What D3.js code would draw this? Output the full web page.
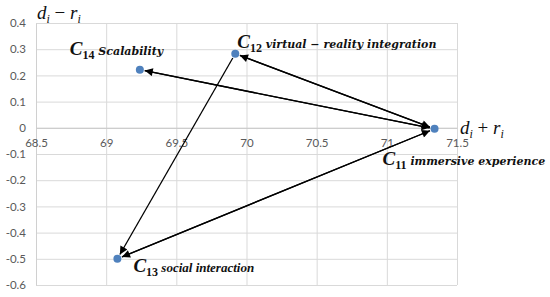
<!DOCTYPE html>
<html lang="en">
<head>
<meta charset="UTF-8">
<title>IRM diagram</title>
<script src="https://d3js.org/d3.v7.min.js"></script>
<style>
  body { margin: 0; background: #fff; }
  .tick text { font-family: Lato, "Liberation Sans", sans-serif; font-size: 11.5px; fill: #595959; }
</style>
</head>
<body>
<svg width="550" height="297"></svg>
<script>
    // criteria (d+r, d-r)
    var ids = ["11", "12", "13", "14"];
    var names = ["immersive experience", "virtual \u2212 reality integration", "social interaction", "Scalability"];
    var xVals = [71.34, 69.92, 69.08, 69.24];
    var yVals = [-0.004, 0.283, -0.5, 0.222];
    // arrows: index from -> index to
    var linkFrom = [0, 0, 0, 1, 3, 1, 2];
    var linkTo   = [3, 1, 2, 2, 0, 0, 0];
    var xTicks = [68.5, 69, 69.5, 70, 70.5, 71, 71.5];
    var yTicks = [0.4, 0.3, 0.2, 0.1, 0, -0.1, -0.2, -0.3, -0.4, -0.5, -0.6];

    var svg = d3.select("svg"),
        margin = {top: 23, right: 93, bottom: 12, left: 36},
        width = +svg.attr("width") - margin.left - margin.right,
        height = +svg.attr("height") - margin.top - margin.bottom,
        g = svg.append("g").attr("transform", "translate(" + margin.left + "," + margin.top + ")");

    var x = d3.scaleLinear().domain([68.5, 71.5]).range([0, width]),
        y = d3.scaleLinear().domain([-0.6, 0.4]).range([height, 0]);

    svg.append("defs").append("marker")
        .attr("id", "arr")
        .attr("viewBox", "0 0 10 10")
        .attr("refX", 10).attr("refY", 5)
        .attr("markerWidth", 10).attr("markerHeight", 8)
        .attr("markerUnits", "userSpaceOnUse")
        .attr("orient", "auto-start-reverse")
        .append("path").attr("d", "M0,0L10,5L0,10z").attr("fill", "#000");

    // gridlines
    g.append("g")
        .call(d3.axisLeft(y).tickValues(yTicks).tickSize(-width).tickFormat(""))
        .call(s => s.select(".domain").remove())
        .selectAll("line").attr("stroke", "#d9d9d9");
    g.append("g")
        .attr("transform", "translate(0," + height + ")")
        .call(d3.axisBottom(x).tickValues(xTicks).tickSize(-height).tickFormat(""))
        .call(s => s.select(".domain").remove())
        .selectAll("line").attr("stroke", "#d9d9d9");

    // y labels
    g.append("g")
        .call(d3.axisLeft(y).tickValues(yTicks).tickSize(0).tickPadding(10)
            .tickFormat(d => String(+d.toFixed(1))))
        .call(s => s.select(".domain").attr("stroke", "#d0d0d0"));

    // x axis through zero
    g.append("g")
        .attr("transform", "translate(0," + y(0) + ")")
        .call(d3.axisBottom(x).tickValues(xTicks).tickSize(0).tickPadding(11).tickFormat(d => String(d)))
        .call(s => s.select(".domain").attr("stroke", "#c8c8c8"));

    // arrows
    var gap = 5;
    g.append("g").selectAll("line")
        .data(linkFrom.map((f, i) => [f, linkTo[i]]))
        .join("line")
        .each(function(d) {
            var x1 = x(xVals[d[0]]), y1 = y(yVals[d[0]]),
                x2 = x(xVals[d[1]]), y2 = y(yVals[d[1]]),
                len = Math.hypot(x2 - x1, y2 - y1),
                ux = (x2 - x1) / len, uy = (y2 - y1) / len;
            d3.select(this)
              .attr("x1", x1 + ux * gap).attr("y1", y1 + uy * gap)
              .attr("x2", x2 - ux * gap).attr("y2", y2 - uy * gap);
        })
        .attr("stroke", "#000").attr("stroke-width", 1.3)
        .attr("marker-end", "url(#arr)");

    // points
    g.append("g").selectAll("circle")
        .data(ids)
        .join("circle")
        .attr("cx", (d, i) => x(xVals[i]))
        .attr("cy", (d, i) => y(yVals[i]))
        .attr("r", 4)
        .attr("fill", "#4f81bd");

    // point labels (C13 is set in a Times-like face, the rest in a wider one)
    var lblDx = [-52, 2, 16, -70],
        lblDy = [36, -6, 13, -15];
    var wide = d => d !== "13";
    var lbl = g.append("g").selectAll("text")
        .data(ids)
        .join("text")
        .attr("x", (d, i) => x(xVals[i]) + lblDx[i])
        .attr("y", (d, i) => y(yVals[i]) + lblDy[i])
        .attr("font-family", "'Liberation Serif', serif")
        .attr("font-weight", "bold")
        .attr("fill", "#111");
    lbl.append("tspan").attr("font-style", "italic").attr("font-size", 19).text("C");
    lbl.append("tspan").attr("font-size", 12).attr("dy", 4).text(d => d);
    lbl.append("tspan").attr("dy", -4)
        .attr("font-style", "italic")
        .attr("font-family", d => wide(d) ? "'DejaVu Serif', serif" : "'Liberation Serif', serif")
        .attr("font-size", d => wide(d) ? 11 : 13)
        .text((d, i) => " " + names[i]);

    // axis titles
    function mathTitle(tx, ty, op) {
        var t = svg.append("text")
            .attr("x", tx).attr("y", ty)
            .attr("font-family", "'Liberation Serif', serif")
            .attr("font-size", 19).attr("fill", "#111");
        t.append("tspan").attr("font-style", "italic").text("d");
        t.append("tspan").attr("font-style", "italic").attr("font-size", 12).attr("dy", 4).text("i");
        t.append("tspan").attr("dy", -4).text(" " + op + " ");
        t.append("tspan").attr("font-style", "italic").text("r");
        t.append("tspan").attr("font-style", "italic").attr("font-size", 12).attr("dy", 4).text("i");
    }
    mathTitle(37, 19, "\u2212");
    mathTitle(460, 134, "+");
</script>
</body>
</html>
